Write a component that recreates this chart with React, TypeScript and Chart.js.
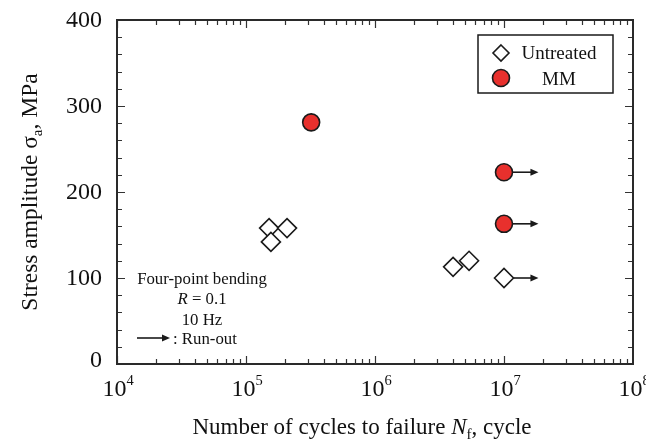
import { useEffect, useRef } from 'react';
import { Chart, registerables } from 'chart.js';
Chart.register(...registerables);

// ---- data ----
const untreatedCycles = [1.51e5, 1.56e5, 2.08e5, 4.03e6, 5.36e6, 1.0e7];
const untreatedStress = [158, 142, 158, 113, 120, 100];
const untreatedRunout = [false, false, false, false, false, true];

const mmCycles = [3.2e5, 1.0e7, 1.0e7];
const mmStress = [281, 223, 163];
const mmRunout = [false, true, true];

const runoutArrowEnd = 1.85e7;

const xDecades = [4, 5, 6, 7, 8];
const yTicks = [0, 100, 200, 300, 400];

const legendLabels = ['Untreated', 'MM'];
const noteLines = ['Four-point bending', 'R = 0.1', '10 Hz', ': Run-out'];

const SERIF = '"Liberation Serif", "Times New Roman", serif';
const INK = '#1a1a1a';
const RED = '#e8302d';

type Seg = { t: string; size: number; italic?: boolean; dy?: number };

function segFont(s: Seg) {
  return `${s.italic ? 'italic ' : ''}${s.size}px ${SERIF}`;
}
function measureSegs(ctx: CanvasRenderingContext2D, segs: Seg[]) {
  let w = 0;
  for (const s of segs) {
    ctx.font = segFont(s);
    w += ctx.measureText(s.t).width;
  }
  return w;
}
function drawSegs(ctx: CanvasRenderingContext2D, segs: Seg[], cx: number, baseline: number) {
  const total = measureSegs(ctx, segs);
  let x = cx - total / 2;
  ctx.textAlign = 'left';
  ctx.textBaseline = 'alphabetic';
  for (const s of segs) {
    ctx.font = segFont(s);
    ctx.fillText(s.t, x, baseline + (s.dy || 0));
    x += ctx.measureText(s.t).width;
  }
}

function diamond(ctx: CanvasRenderingContext2D, x: number, y: number, r: number) {
  ctx.beginPath();
  ctx.moveTo(x, y - r);
  ctx.lineTo(x + r, y);
  ctx.lineTo(x, y + r);
  ctx.lineTo(x - r, y);
  ctx.closePath();
}

function arrow(ctx: CanvasRenderingContext2D, x0: number, x1: number, y: number) {
  ctx.save();
  ctx.strokeStyle = INK;
  ctx.fillStyle = INK;
  ctx.lineWidth = 1.6;
  ctx.beginPath();
  ctx.moveTo(x0, y);
  ctx.lineTo(x1 - 6, y);
  ctx.stroke();
  ctx.beginPath();
  ctx.moveTo(x1, y);
  ctx.lineTo(x1 - 8, y - 3.5);
  ctx.lineTo(x1 - 8, y + 3.5);
  ctx.closePath();
  ctx.fill();
  ctx.restore();
}

const DIA_R = 9.5;
const CIR_R = 8.5;

const decorPlugin = {
  id: 'decor',
  beforeDatasetsDraw(chart: any) {
    const ctx: CanvasRenderingContext2D = chart.ctx;
    const xs = chart.scales.x;
    const ys = chart.scales.y;
    const xe = xs.getPixelForValue(runoutArrowEnd);
    untreatedCycles.forEach((c, i) => {
      if (!untreatedRunout[i]) return;
      arrow(ctx, xs.getPixelForValue(c) + DIA_R, xe, ys.getPixelForValue(untreatedStress[i]));
    });
    mmCycles.forEach((c, i) => {
      if (!mmRunout[i]) return;
      arrow(ctx, xs.getPixelForValue(c) + CIR_R, xe, ys.getPixelForValue(mmStress[i]));
    });
  },
  afterDraw(chart: any) {
    const ctx: CanvasRenderingContext2D = chart.ctx;
    const a = chart.chartArea;
    const xs = chart.scales.x;
    const ys = chart.scales.y;
    ctx.save();
    // ticks (inward)
    ctx.strokeStyle = '#333';
    ctx.lineWidth = 1.2;
    ctx.beginPath();
    for (let v = 0; v <= 400; v += 20) {
      const y = Math.round(ys.getPixelForValue(v)) + 0.5;
      const len = v % 100 === 0 ? 8 : 5;
      ctx.moveTo(a.left, y);
      ctx.lineTo(a.left + len, y);
      ctx.moveTo(a.right, y);
      ctx.lineTo(a.right - len, y);
    }
    for (let d = 4; d < 8; d++) {
      for (let k = 1; k <= 9; k++) {
        const x = Math.round(xs.getPixelForValue(k * Math.pow(10, d))) + 0.5;
        const len = k === 1 ? 8 : 5;
        ctx.moveTo(x, a.bottom);
        ctx.lineTo(x, a.bottom - len);
        ctx.moveTo(x, a.top);
        ctx.lineTo(x, a.top + len);
      }
    }
    ctx.stroke();
    // frame
    ctx.strokeStyle = '#2a2a2a';
    ctx.lineWidth = 2;
    ctx.strokeRect(a.left, a.top, a.right - a.left, a.bottom - a.top);

    ctx.fillStyle = '#111';
    // y tick labels
    ctx.font = `24px ${SERIF}`;
    ctx.textAlign = 'right';
    ctx.textBaseline = 'middle';
    yTicks.forEach((v) => {
      ctx.fillText(String(v), a.left - 15, ys.getPixelForValue(v) + (v === 0 ? -3 : 1));
    });
    // x tick labels
    xDecades.forEach((d) => {
      const x = xs.getPixelForValue(Math.pow(10, d));
      drawSegs(ctx, [{ t: '10', size: 24 }, { t: String(d), size: 14.5, dy: -11 }], x + 1, a.bottom + 32);
    });
    // x title
    drawSegs(
      ctx,
      [
        { t: 'Number of cycles to failure ', size: 23 },
        { t: 'N', size: 23, italic: true },
        { t: 'f', size: 15, dy: 5 },
        { t: ', cycle', size: 23 },
      ],
      (a.left + a.right) / 2 - 13,
      a.bottom + 70
    );
    // y title
    ctx.save();
    ctx.translate(37, (a.top + a.bottom) / 2);
    ctx.rotate(-Math.PI / 2);
    drawSegs(
      ctx,
      [
        { t: 'Stress amplitude \u03c3', size: 23.5 },
        { t: 'a', size: 15, dy: 5 },
        { t: ', MPa', size: 23.5 },
      ],
      0,
      0
    );
    ctx.restore();

    // legend
    const lx = a.right - 155;
    const ly = a.top + 15;
    const lw = 135;
    const lh = 58;
    ctx.fillStyle = '#fff';
    ctx.fillRect(lx, ly, lw, lh);
    ctx.strokeStyle = INK;
    ctx.lineWidth = 1.5;
    ctx.strokeRect(lx, ly, lw, lh);
    diamond(ctx, lx + 23, ly + 18, 8);
    ctx.fillStyle = '#fff';
    ctx.fill();
    ctx.strokeStyle = INK;
    ctx.lineWidth = 1.6;
    ctx.stroke();
    ctx.beginPath();
    ctx.arc(lx + 23, ly + 43, 8.5, 0, Math.PI * 2);
    ctx.fillStyle = RED;
    ctx.fill();
    ctx.stroke();
    ctx.fillStyle = '#111';
    drawSegs(ctx, [{ t: legendLabels[0], size: 19 }], lx + 81, ly + 24);
    drawSegs(ctx, [{ t: legendLabels[1], size: 19 }], lx + 81, ly + 50);

    // note
    const nx = a.left + 85;
    drawSegs(ctx, [{ t: noteLines[0], size: 16.8 }], nx, 284);
    drawSegs(
      ctx,
      [
        { t: 'R', size: 16.8, italic: true },
        { t: noteLines[1].slice(1), size: 16.8 },
      ],
      nx,
      304
    );
    drawSegs(ctx, [{ t: noteLines[2], size: 16.8 }], nx, 325);
    arrow(ctx, a.left + 20, a.left + 53, 338);
    ctx.fillStyle = '#111';
    ctx.font = `16.8px ${SERIF}`;
    ctx.textAlign = 'left';
    ctx.textBaseline = 'alphabetic';
    ctx.fillText(noteLines[3], a.left + 56, 344);
    ctx.restore();
  },
};

export default function App() {
  const ref = useRef<HTMLCanvasElement>(null);
  useEffect(() => {
    document.body.style.margin = '0';
    const canvas = ref.current!;
    const chart = new Chart(canvas, {
      type: 'scatter',
      data: {
        datasets: [
          {
            label: legendLabels[0],
            data: untreatedCycles.map((x, i) => ({ x, y: untreatedStress[i] })),
            pointStyle: 'rectRot',
            pointRadius: DIA_R,
            pointHoverRadius: DIA_R,
            pointBackgroundColor: '#fff',
            pointBorderColor: INK,
            pointBorderWidth: 1.6,
          },
          {
            label: legendLabels[1],
            data: mmCycles.map((x, i) => ({ x, y: mmStress[i] })),
            pointStyle: 'circle',
            pointRadius: CIR_R,
            pointHoverRadius: CIR_R,
            pointBackgroundColor: RED,
            pointBorderColor: INK,
            pointBorderWidth: 1.6,
          },
        ],
      },
      options: {
        animation: false,
        responsive: false,
        events: [],
        layout: { padding: { left: 0, right: 13, top: 20, bottom: 0 } },
        plugins: { legend: { display: false }, tooltip: { enabled: false } },
        scales: {
          x: {
            type: 'logarithmic',
            min: 1e4,
            max: 1e8,
            grid: { display: false },
            border: { display: false },
            ticks: { display: false },
            afterFit: (s: any) => {
              s.height = 75;
            },
          },
          y: {
            min: 0,
            max: 400,
            ticks: { display: false },
            grid: { display: false, drawTicks: false },
            border: { display: false },
            afterFit: (s: any) => {
              s.width = 117;
            },
          },
        },
      } as any,
      plugins: [decorPlugin],
    });
    return () => chart.destroy();
  }, []);
  return (
    <div style={{ width: 646, height: 439 }}>
      <canvas ref={ref} width={646} height={439} />
    </div>
  );
}
